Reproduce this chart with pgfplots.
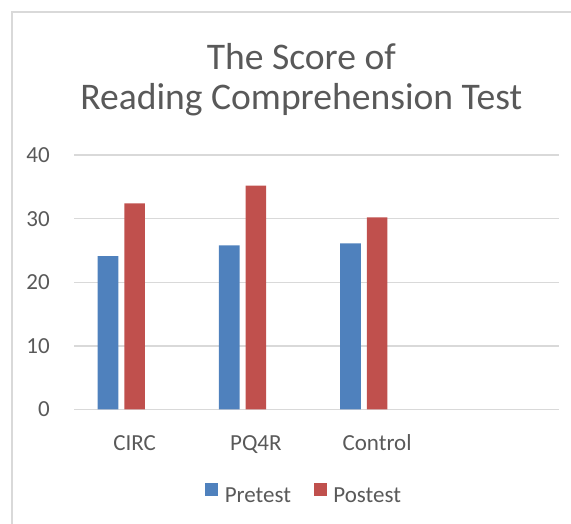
\documentclass[border=0pt]{standalone}
\usepackage{pgfplots}
\pgfplotsset{compat=1.18}
\usepackage{fontspec}
\setmainfont{Carlito}
\definecolor{preblue}{HTML}{4F81BD}
\definecolor{postred}{HTML}{C0504D}
\definecolor{txtgrey}{HTML}{595959}
\definecolor{gridgrey}{HTML}{D9D9D9}
\begin{document}
\begin{tikzpicture}
\path[use as bounding box] (0pt,0pt) rectangle (428.25pt,393pt);
\draw[gridgrey, line width=1pt] (9pt,0pt) -- (9pt,384pt) -- (428.25pt,384pt);
\node[txtgrey, font=\fontsize{28.2}{33}\selectfont, anchor=base] at (226pt,340.5pt) {The Score of};
\node[txtgrey, font=\fontsize{28.2}{33}\selectfont, anchor=base] at (226pt,310.5pt) {Reading Comprehension Test};
\begin{axis}[
  at={(55.5pt,85.875pt)}, anchor=south west,
  scale only axis, width=363.75pt, height=190.875pt,
  xmin=-0.5, xmax=3.5, ymin=0, ymax=40,
  ytick={0,10,20,30,40},
  xtick={0,1,2}, xticklabels={CIRC,PQ4R,Control},
  /pgf/number format/assume math mode=true,
  axis line style={draw=none},
  major tick length=0pt,
  ymajorgrids, grid style={gridgrey, line width=1pt},
  tick label style={font=\fontsize{17.25}{20}\selectfont, text=txtgrey},
  yticklabel style={inner xsep=0pt, xshift=-18pt},
  xticklabel style={anchor=base, yshift=-31pt},
  ybar, bar width=0.17,
  legend columns=2,
  legend style={at={(0.475,-0.336)}, anchor=center, draw=none, fill=none,
    font=\fontsize{17.25}{20}\selectfont, text=txtgrey,
    /tikz/every odd column/.append style={column sep=3pt},
    /tikz/every even column/.append style={column sep=15pt}},
  legend image code/.code={\fill[#1] (0pt,0.7pt) rectangle (9.75pt,10.45pt);},
]
\addplot[fill=preblue, draw=none, bar shift=-0.22] coordinates {(0,24.1) (1,25.8) (2,26.1)};
\addplot[fill=postred, draw=none, bar shift=0] coordinates {(0,32.4) (1,35.2) (2,30.2)};
\legend{Pretest,Postest}
\end{axis}
\end{tikzpicture}
\end{document}
